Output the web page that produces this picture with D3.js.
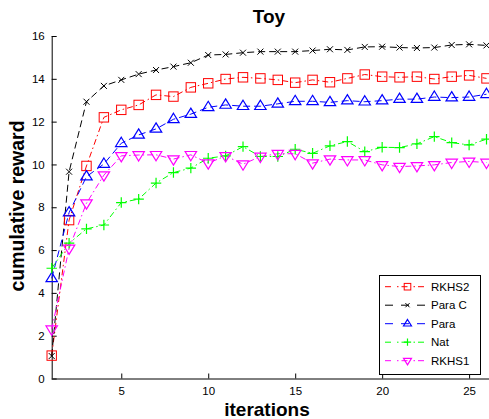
<!DOCTYPE html>
<html><head><meta charset="utf-8">
<script src="https://cdn.jsdelivr.net/npm/d3@7/dist/d3.min.js"></script>
<style>
body{margin:0;background:#fff;}
svg{display:block;}
text{font-family:"Liberation Sans",Arial,sans-serif;}
</style></head>
<body><svg id="c" width="489" height="419"></svg>
<script>
const iterations = d3.range(1, 27);
const rkhs2 = [1.07, 7.4, 9.93, 12.2, 12.55, 12.78, 13.25, 13.17, 13.6, 13.79, 13.99, 14.07, 14.02, 13.95, 13.82, 13.95, 13.84, 14.02, 14.2, 14.1, 14.07, 14.1, 13.99, 14.1, 14.16, 14.02];
const paraC = [1.05, 9.66, 12.93, 13.67, 13.95, 14.22, 14.41, 14.57, 14.75, 15.11, 15.14, 15.22, 15.27, 15.27, 15.27, 15.32, 15.38, 15.35, 15.49, 15.5, 15.46, 15.44, 15.46, 15.58, 15.61, 15.56];
const para = [4.68, 7.75, 9.43, 10.02, 10.99, 11.38, 11.66, 12.11, 12.35, 12.67, 12.78, 12.72, 12.72, 12.83, 12.95, 12.95, 12.9, 12.98, 12.93, 12.98, 13.05, 13.05, 13.15, 13.12, 13.15, 13.28];
const nat = [5.15, 6.32, 6.99, 7.17, 8.22, 8.38, 9.13, 9.62, 9.83, 10.29, 10.4, 10.83, 10.37, 10.37, 10.71, 10.52, 10.87, 11.07, 10.6, 10.8, 10.79, 10.96, 11.3, 11.02, 10.91, 11.18];
const rkhs1 = [2.3, 6.08, 8.19, 9.5, 10.4, 10.44, 10.45, 10.25, 10.45, 10.06, 10.4, 10.01, 10.37, 10.5, 10.5, 10.06, 10.25, 10.21, 10.21, 9.98, 9.9, 9.93, 9.98, 10.09, 10.14, 10.09];
const seriesNames = ["RKHS2", "Para C", "Para", "Nat", "RKHS1"];
const xTicks = [5, 10, 15, 20, 25];
const yTicks = [0, 2, 4, 6, 8, 10, 12, 14, 16];
const titleText = "Toy", xLabel = "iterations", yLabel = "cumulative reward";

const series = [
  {name: seriesNames[0], values: rkhs2, color: "#ff0000", dash: "6,3,1.5,3", marker: "square"},
  {name: seriesNames[1], values: paraC, color: "#000000", dash: "7,4", marker: "x"},
  {name: seriesNames[2], values: para, color: "#0000ff", dash: "7,4", marker: "tri"},
  {name: seriesNames[3], values: nat, color: "#00ff00", dash: "6,3,1.5,3", marker: "plus"},
  {name: seriesNames[4], values: rkhs1, color: "#ff00ff", dash: "6,3,1.5,3", marker: "tridown"}
];

const svg = d3.select("#c");
const L = 51.7, R = 486.5, T = 36, B = 378.5;
const x = d3.scaleLinear().domain([1, 26]).range([L, R]);
const y = d3.scaleLinear().domain([0, 16]).range([B, T]);

// axes
const xAxis = d3.axisBottom(x).tickValues(xTicks).tickSize(-5).tickPadding(8).tickFormat(d3.format("d"));
const yAxis = d3.axisLeft(y).tickValues(yTicks).tickSize(-5).tickPadding(7).tickFormat(d3.format("d"));
const gx = svg.append("g").attr("transform", `translate(0,${B})`).call(xAxis);
const gy = svg.append("g").attr("transform", `translate(${L},0)`).call(yAxis);
[gx, gy].forEach(g => {
  g.select(".domain").attr("stroke", "#000").attr("stroke-width", 1);
  g.selectAll(".tick line").attr("stroke", "#000");
  g.selectAll("text").attr("font-size", 11.5).attr("fill", "#000").attr("font-family", "Liberation Sans, Arial, sans-serif");
});
gx.select(".domain").attr("d", `M${L},0.5H${R+3}`);
gy.select(".domain").attr("d", `M0.5,${B}V${T}`);

function drawMarker(g, type, cx, cy, color, k) {
  k = k || 1;
  if (type === "square") {
    const h = 4.7 * k;
    g.append("rect").attr("x", cx - h).attr("y", cy - h).attr("width", 2 * h).attr("height", 2 * h)
      .attr("fill", "none").attr("stroke", color).attr("stroke-width", 1);
  } else if (type === "x") {
    const s = 3 * k;
    g.append("path").attr("d", `M${cx-s},${cy-s}L${cx+s},${cy+s}M${cx-s},${cy+s}L${cx+s},${cy-s}`)
      .attr("stroke", color).attr("stroke-width", 1).attr("fill", "none");
  } else if (type === "plus") {
    const s = 5.2 * k;
    g.append("path").attr("d", `M${cx-s},${cy}H${cx+s}M${cx},${cy-s}V${cy+s}`)
      .attr("stroke", color).attr("stroke-width", 1.2).attr("fill", "none");
  } else if (type === "tri") {
    const r = 6 * k;
    g.append("path").attr("d", `M${cx},${cy-r}L${cx+r*0.95},${cy+r*0.55}L${cx-r*0.95},${cy+r*0.55}Z`)
      .attr("stroke", color).attr("stroke-width", 1.2).attr("fill", "none");
  } else if (type === "tridown") {
    const r = 6 * k;
    g.append("path").attr("d", `M${cx},${cy+r}L${cx+r*0.95},${cy-r*0.55}L${cx-r*0.95},${cy-r*0.55}Z`)
      .attr("stroke", color).attr("stroke-width", 1.2).attr("fill", "none");
  }
}

const line = d3.line().x((d, i) => x(iterations[i])).y(d => y(d));
const plot = svg.append("g");
series.forEach(s => {
  plot.append("path").datum(s.values).attr("d", line).attr("fill", "none")
    .attr("stroke", s.color).attr("stroke-width", 1).attr("stroke-dasharray", s.dash);
});
series.forEach(s => {
  const g = plot.append("g");
  s.values.forEach((v, i) => drawMarker(g, s.marker, x(iterations[i]), y(v), s.color));
});

// legend
const lg = svg.append("g");
lg.append("rect").attr("x", 379.5).attr("y", 275.5).attr("width", 101).attr("height", 99)
  .attr("fill", "#fff").attr("stroke", "#000").attr("stroke-width", 1);
series.forEach((s, i) => {
  const yy = 286.7 + i * 18.5;
  lg.append("line").attr("x1", 385).attr("x2", 426).attr("y1", yy).attr("y2", yy)
    .attr("stroke", s.color).attr("stroke-dasharray", s.dash === "7,4" ? "8,8" : "6,6,1.5,3");
  drawMarker(lg, s.marker, 407.5, yy, s.color, 0.7);
  lg.append("text").attr("x", 431).attr("y", yy + 4.2).attr("font-size", 11.5).text(s.name);
});

// titles
svg.append("text").attr("x", 269).attr("y", 23).attr("text-anchor", "middle")
  .attr("font-size", 19).attr("font-weight", "bold").text(titleText);
svg.append("text").attr("x", 267).attr("y", 416).attr("text-anchor", "middle")
  .attr("font-size", 19).attr("font-weight", "bold").text(xLabel);
svg.append("text").attr("transform", "translate(24,206) rotate(-90)").attr("text-anchor", "middle")
  .attr("font-size", 19.5).attr("font-weight", "bold").text(yLabel);
</script></body></html>
